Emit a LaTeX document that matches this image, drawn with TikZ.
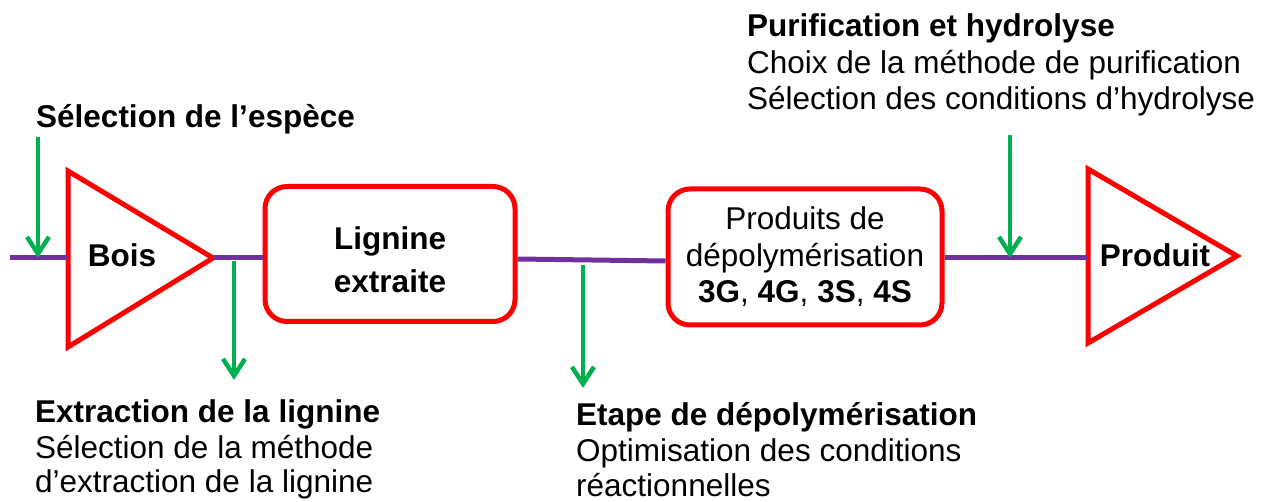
\documentclass[tikz,border=0pt]{standalone}
\usepackage{fontspec}
\setmainfont{Liberation Sans}
\usetikzlibrary{arrows.meta,positioning}
\definecolor{stagered}{HTML}{FF0000}
\definecolor{linkpurple}{HTML}{7030A0}
\definecolor{hintgreen}{HTML}{00B050}
\tikzset{
  >={Straight Barb[length=17pt,width=22pt]},
  stage/.style={draw=stagered, rounded corners=22pt, line width=5pt, align=center, inner sep=0pt},
  tank/.style={draw=stagered, line width=5pt, line join=miter},
  link/.style={draw=linkpurple, line width=5pt},
  hint/.style={->, draw=hintgreen, line width=4.5pt},
  lead/.style={anchor=base west, inner sep=0pt, font=\bfseries\fontsize{31.5}{36}\selectfont},
  note/.style={anchor=base west, inner sep=0pt, font=\fontsize{31.5}{36}\selectfont}
}

\begin{document}
\begin{tikzpicture}[x=1pt,y=-1pt]
  \useasboundingbox (0,0) rectangle (1264,502);

  % wood triangle
  \coordinate (boisTop) at (68,171);
  \coordinate (boisBot) at (68,347);
  \coordinate (boisIn) at (68,258);
  \coordinate (boisTip) at (213,258);
  \draw[tank] (boisTop) -- (boisTip) -- (boisBot) -- cycle;
  \node[anchor=base,inner sep=0pt,font=\bfseries\fontsize{31.5}{36}\selectfont] (bois) at (122,267) {Bois};

  % stage boxes
  \node[stage,minimum width=250pt,minimum height=135pt,font=\bfseries\fontsize{31.5}{43}\selectfont]
    (lig) at (390,254) {\rule{0pt}{35pt}Lignine\\extraite};
  \node[stage,minimum width=274pt,minimum height=136pt,font=\fontsize{31.5}{36.5}\selectfont]
    (depo) at (805,257) {Produits de\\dépolymérisation\\\textbf{3G}, \textbf{4G}, \textbf{3S}, \textbf{4S}};

  % product triangle
  \coordinate (prodTop) at (1088,169);
  \coordinate (prodBot) at (1088,343);
  \coordinate (prodIn) at (1088,258);
  \coordinate (prodTip) at (1237,256);
  \draw[tank] (prodTop) -- (prodTip) -- (prodBot) -- cycle;
  \node[anchor=base,inner sep=0pt,font=\bfseries\fontsize{31.5}{36}\selectfont] (prod) at (1155,267) {Produit};

  % purple links
  \coordinate (feed) at (10,258);
  \draw[link] (feed) -- (boisIn);
  \draw[link] (boisTip) -- (boisTip -| lig.west);
  \draw[link] (lig.east |- 0,259) -- (depo.west |- 0,261);
  \draw[link] (depo.east |- prodIn) -- (prodIn);

  % green hints
  \coordinate (dropA) at (38,137);
  \coordinate (dropB) at (234,261);
  \coordinate (dropC) at (583,265);
  \coordinate (dropD) at (1010,135);
  \draw[hint] (dropA) -- (dropA |- feed);
  \draw[hint] (dropB) -- ++(0,119);
  \draw[hint] (dropC) -- ++(0,123);
  \draw[hint] (dropD) -- (dropD |- prodIn);

  % texts
  \node[lead] (sel) at (36,128) {Sélection de l’espèce};
  \node[lead] (pur) at (747,37) {Purification et hydrolyse};
  \node[note] (pur1) at (747,74) {Choix de la méthode de purification};
  \node[note] (pur2) at (747,110) {Sélection des conditions d’hydrolyse};
  \node[lead] (ext) at (35,423) {Extraction de la lignine};
  \node[note] (ext1) at (35,458) {Sélection de la méthode};
  \node[note] (ext2) at (35,492) {d’extraction de la lignine};
  \node[lead] (etp) at (576,425) {Etape de dépolymérisation};
  \node[note] (etp1) at (576,461) {Optimisation des conditions};
  \node[note] (etp2) at (576,496) {réactionnelles};
\end{tikzpicture}
\end{document}
